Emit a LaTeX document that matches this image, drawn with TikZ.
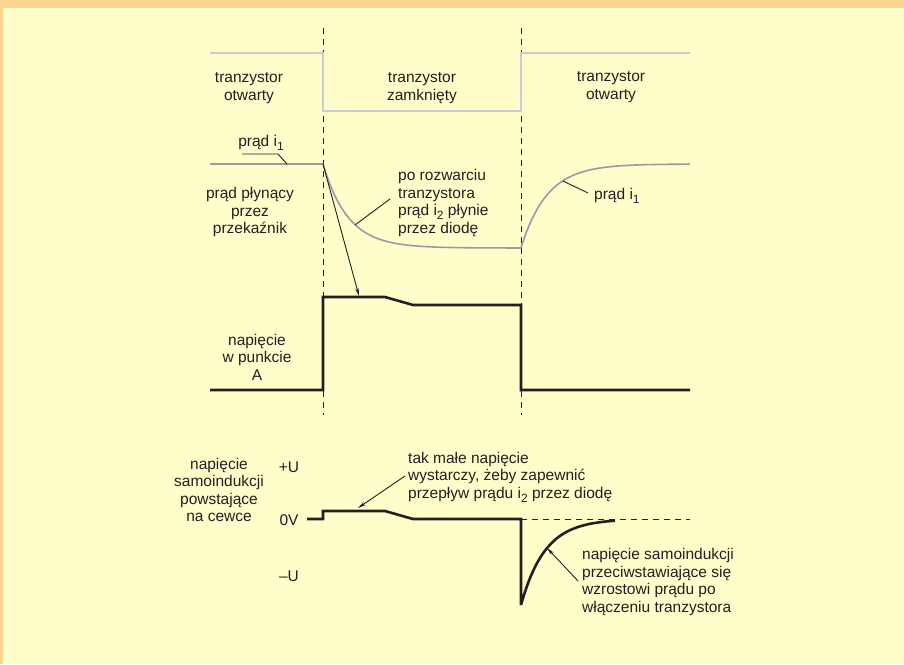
\documentclass[tikz,border=0pt]{standalone}
\usepackage{fontspec}
\setmainfont{Liberation Sans}
\usetikzlibrary{arrows.meta}
\definecolor{paper}{RGB}{255,253,202}
\definecolor{rim}{RGB}{255,212,140}
\definecolor{stategray}{RGB}{200,204,216}
\definecolor{curgray}{RGB}{150,155,170}
\definecolor{ink}{RGB}{35,31,32}
\newcommand\lowidx[1]{\raisebox{-4pt}{\fontsize{12}{12}\selectfont #1}}
\tikzset{
  txt/.style={inner sep=0pt, text=ink, align=center, font=\fontsize{15.5}{17.5}\selectfont},
  txtl/.style={txt, align=left, anchor=west},
  state/.style={stategray, line width=2pt},
  current/.style={curgray, line width=1.6pt},
  volt/.style={ink, line width=2.6pt},
  divider/.style={ink, line width=1pt, dash pattern=on 6pt off 5pt},
  leader/.style={ink, line width=0.9pt},
  pointer/.style={leader, -{Stealth[length=8pt,width=3.5pt]}}
}
\begin{document}
\begin{tikzpicture}[x=1pt,y=-1pt]
  \fill[paper] (0,0) rectangle (904,664);
  \fill[rim] (0,0) rectangle (904,8);
  \fill[rim] (0,0) rectangle (3,664);
  \useasboundingbox (0,0) rectangle (904,664);

  % switching instants
  \coordinate (off top) at (323,28);
  \coordinate (off bot) at (323,415);
  \coordinate (on top) at (521,28);
  \coordinate (on bot) at (521,415);
  \draw[divider] (off top) -- (off bot);
  \draw[divider] (on top) -- (on bot);

  % transistor state
  \draw[state] (210,53) -- (323,53) -- (323,111) -- (521,111) -- (521,53) -- (690,53);
  \node[txt] (open1) at (249,88) {tranzystor\\otwarty};
  \node[txt] (closed) at (422,88) {tranzystor\\zamknięty};
  \node[txt] (open2) at (611,87) {tranzystor\\otwarty};

  % relay current
  \draw[current] (210,164) -- (323,164)
    plot[domain=323:521, samples=60] (\x,{248-84*exp(-(\x-323)/25)})
    -- (521,248)
    plot[domain=521:690, samples=60] (\x,{164+84*exp(-(\x-521)/26)});
  \coordinate (i1 left) at (287,164);
  \coordinate (i2 curve) at (355,225);
  \coordinate (i1 right) at (563,181);
  \coordinate (decay start) at (323,164);
  \node[txt] (i1a) at (261,143) {prąd i\lowidx{1}};
  \draw[leader] (242,154) -- (278,154) -- (i1 left);
  \node[txt] (relay) at (250,212) {prąd płynący\\przez\\przekaźnik};
  \node[txtl] (diode) at (398,203) {po rozwarciu\\tranzystora\\prąd i\lowidx{2} płynie\\przez diodę};
  \draw[leader] (390,199) -- (i2 curve);
  \node[txtl] (i1b) at (594,196) {prąd i\lowidx{1}};
  \draw[leader] (588,193) -- (i1 right);

  % voltage at point A
  \draw[volt] (210,390) -- (323,390) -- (323,297) -- (385,297) -- (413,305)
    -- (521,305) -- (521,390) -- (690,390);
  \coordinate (pulse) at (359,296);
  \draw[pointer] (decay start) -- (pulse);
  \node[txt] (pointA) at (257,357) {napięcie\\w punkcie\\A};

  % self-induction voltage
  \node[txt] (coil) at (219,490) {napięcie\\samoindukcji\\powstające\\na cewce};
  \node[txt] (plusU) at (289,467) {+U};
  \node[txt] (zeroV) at (289,520) {0V};
  \node[txt] (minusU) at (289,576) {–U};
  \draw[divider] (521,519) -- (690,519);
  \draw[volt] (307,519) -- (323,519) -- (323,511) -- (385,511) -- (413,519)
    -- (521,519) -- (521,605)
    plot[domain=521:615, samples=60] (\x,{519+86*exp(-(\x-521)/24)});
  \coordinate (small) at (358,508);
  \coordinate (spike) at (547,548);
  \node[txtl] (enough) at (408,477) {tak małe napięcie\\wystarczy, żeby zapewnić\\przepływ prądu i\lowidx{2} przez diodę};
  \draw[pointer] (405,476) -- (small);
  \node[txtl] (oppose) at (582,582) {napięcie samoindukcji\\przeciwstawiające się\\wzrostowi prądu po\\włączeniu tranzystora};
  \draw[pointer] (578,581) -- (spike);
\end{tikzpicture}
\end{document}
